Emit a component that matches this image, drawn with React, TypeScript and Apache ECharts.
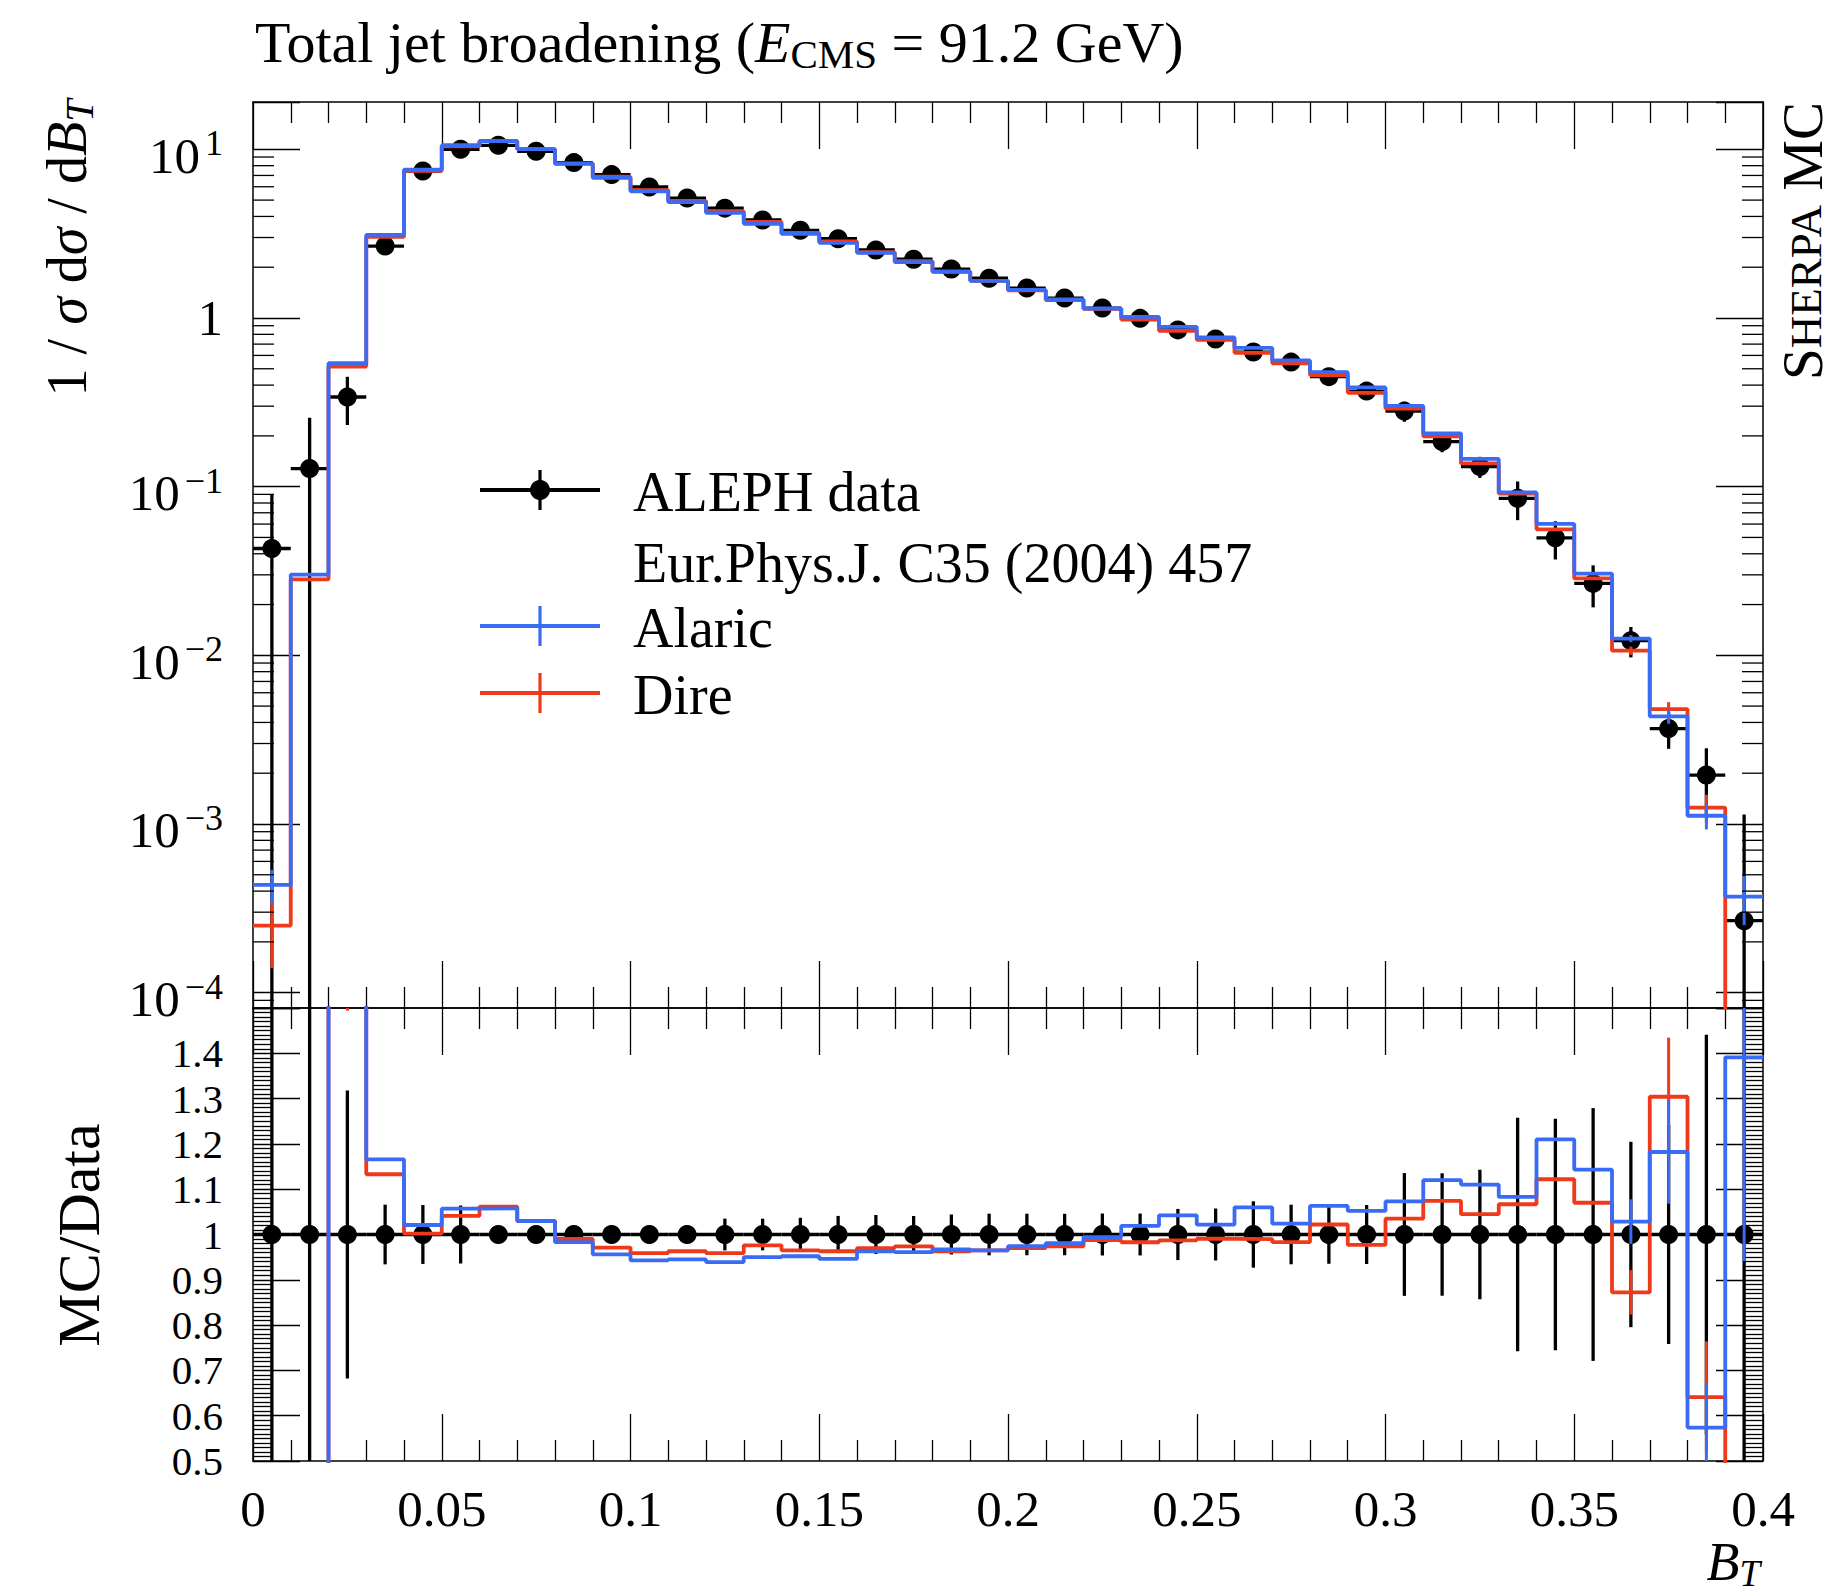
import React, { useEffect, useRef } from "react";
import * as echarts from "echarts";

// ---------------- data ----------------
const BIN_EDGES = [
  0, 0.01, 0.02, 0.03, 0.04, 0.05, 0.06, 0.07, 0.08, 0.09, 0.1, 0.11, 0.12, 0.13,
  0.14, 0.15, 0.16, 0.17, 0.18, 0.19, 0.2, 0.21, 0.22, 0.23, 0.24, 0.25, 0.26,
  0.27, 0.28, 0.29, 0.3, 0.31, 0.32, 0.33, 0.34, 0.35, 0.36, 0.37, 0.38, 0.39, 0.4,
];

const ALEPH_VALUES = [
  0.043, 0.128, 0.34, 2.67, 7.43, 10.0, 10.56, 9.73, 8.34, 7.08, 5.98, 5.14, 4.48,
  3.81, 3.31, 2.95, 2.53, 2.23, 1.95, 1.72, 1.505, 1.312, 1.145, 0.995, 0.85, 0.75,
  0.628, 0.5475, 0.449, 0.3685, 0.2805, 0.185, 0.1315, 0.0853, 0.0497, 0.0267,
  0.01222, 0.00368, 0.00195, 0.000267,
];
const ALEPH_ERRORS = [
  0.047, 0.128, 0.108, 0.176, 0.483, 0.64, 0.16, 0.146, 0.125, 0.106, 0.09, 0.1,
  0.157, 0.133, 0.122, 0.121, 0.109, 0.091, 0.086, 0.079, 0.069, 0.06, 0.053,
  0.046, 0.048, 0.043, 0.046, 0.036, 0.029, 0.024, 0.038, 0.025, 0.0188, 0.022,
  0.0127, 0.00745, 0.0025, 0.00089, 0.00086, 0.00087,
];

const ALARIC_VALUES = [
  0.000435, 0.0301, 0.54, 3.113, 7.586, 10.57, 11.17, 10.02, 8.198, 6.768, 5.639,
  4.857, 4.207, 3.62, 3.151, 2.791, 2.436, 2.143, 1.886, 1.66, 1.466, 1.287, 1.138,
  1.014, 0.886, 0.7665, 0.6657, 0.5606, 0.4773, 0.3877, 0.301, 0.2072, 0.146,
  0.09238, 0.06014, 0.03052, 0.01257, 0.00435, 0.001119, 0.0003714,
];
const ALARIC_ERRORS = [
  0.0001, 0, 0, 0, 0, 0, 0, 0, 0, 0, 0, 0, 0, 0, 0, 0, 0, 0, 0, 0, 0, 0, 0, 0, 0,
  0, 0, 0, 0, 0, 0, 0, 0, 0, 0, 0, 0.0006, 0.00042, 0.00019, 0.00012,
];

const DIRE_VALUES = [
  0.00025, 0.0282, 0.515, 3.025, 7.445, 10.41, 11.21, 10.02, 8.257, 6.875, 5.735,
  4.95, 4.296, 3.719, 3.194, 2.841, 2.454, 2.172, 1.878, 1.66, 1.46, 1.278, 1.131,
  0.978, 0.839, 0.743, 0.6217, 0.5382, 0.4589, 0.36, 0.2903, 0.1987, 0.1374, 0.091,
  0.05576, 0.02857, 0.01066, 0.004799, 0.00125, 0,
];
const DIRE_ERRORS = [
  0.00011, 0, 0.007, 0, 0, 0, 0, 0, 0, 0, 0, 0, 0, 0, 0, 0, 0, 0, 0, 0, 0, 0, 0, 0,
  0, 0, 0, 0, 0, 0, 0, 0, 0, 0, 0, 0, 0.0006, 0.00048, 0.00024, 0,
];

const X_RANGE = [0, 0.4];
const X_MAJOR_STEP = 0.05;
const MAIN_Y_RANGE = [8.11e-5, 19.08];
const RATIO_Y_RANGE = [0.5, 1.5];
const RATIO_MAJOR_STEP = 0.1;
const LOG_DECADES = [-5, -4, -3, -2, -1, 0, 1];
const LOG_MINOR_MULTIPLIERS = [2, 3, 4, 5, 6, 7, 8, 9];

const LEGEND_LABELS = ["ALEPH data", "Eur.Phys.J. C35 (2004) 457", "Alaric", "Dire"];

// ---------------- style / layout ----------------
const W = 1845;
const H = 1596;
const PLOT_LEFT = 253;
const PLOT_WIDTH = 1510;
const MAIN_TOP = 102;
const MAIN_HEIGHT = 906;
const RATIO_HEIGHT = 453;
const FONT = "'Liberation Serif', 'Times New Roman', serif";
const BLUE = "#3A6BF5";
const RED = "#EE3A1A";
const BLACK = "#000000";
const LOG_FLOOR = 1e-9;

function tok(size: number, extra: any = {}) {
  return { fontSize: size, fontFamily: FONT, fill: BLACK, color: BLACK, ...extra };
}

function errorBars(
  name: string,
  xAxisIndex: number,
  yAxisIndex: number,
  items: number[][],
  color: string,
  width: number,
  withX: boolean,
  floor: number | null,
  z: number
) {
  return {
    type: "custom",
    name,
    xAxisIndex,
    yAxisIndex,
    clip: true,
    silent: true,
    z,
    encode: { x: 0, y: 1 },
    data: items,
    renderItem: (_params: any, api: any) => {
      const x = api.value(0);
      const y = api.value(1);
      const e = api.value(2);
      const xl = api.value(3);
      const xh = api.value(4);
      let lo = y - e;
      if (floor !== null) lo = Math.max(lo, floor);
      const top = api.coord([x, y + e]);
      const bot = api.coord([x, lo]);
      const children: any[] = [];
      if (e > 0) {
        children.push({
          type: "line",
          shape: { x1: top[0], y1: top[1], x2: bot[0], y2: bot[1] },
          style: { stroke: color, lineWidth: width },
        });
      }
      if (withX) {
        const l = api.coord([xl, y]);
        const r = api.coord([xh, y]);
        children.push({
          type: "line",
          shape: { x1: l[0], y1: l[1], x2: r[0], y2: r[1] },
          style: { stroke: color, lineWidth: width },
        });
      }
      return { type: "group", children };
    },
  };
}

function buildOption() {
  const nBins = ALEPH_VALUES.length;
  const centers = ALEPH_VALUES.map((_, i) => (BIN_EDGES[i] + BIN_EDGES[i + 1]) / 2);
  const pos = (v: number) => (v > 0 ? v : LOG_FLOOR);
  const step = (vals: number[]) =>
    BIN_EDGES.map((x, i) => [x, vals[Math.min(i, nBins - 1)]]);
  const ratio = (vals: number[]) => vals.map((v, i) => v / ALEPH_VALUES[i]);

  const dataMain = ALEPH_VALUES.map((v, i) => [centers[i], v, ALEPH_ERRORS[i], BIN_EDGES[i], BIN_EDGES[i + 1]]);
  const dataRatio = ALEPH_VALUES.map((v, i) => [centers[i], 1, ALEPH_ERRORS[i] / v, BIN_EDGES[i], BIN_EDGES[i + 1]]);
  const mcErr = (vals: number[], errs: number[], isRatio: boolean) =>
    vals
      .map((v, i) => [
        centers[i],
        isRatio ? v / ALEPH_VALUES[i] : pos(v),
        isRatio ? errs[i] / ALEPH_VALUES[i] : errs[i],
        BIN_EDGES[i],
        BIN_EDGES[i + 1],
      ])
      .filter((_, i) => errs[i] > 0);

  const minorLogTicks: number[][] = [];
  LOG_DECADES.forEach((d) =>
    LOG_MINOR_MULTIPLIERS.forEach((m) => {
      const v = m * Math.pow(10, d);
      if (v > MAIN_Y_RANGE[0] && v < MAIN_Y_RANGE[1]) minorLogTicks.push([X_RANGE[0], v]);
    })
  );

  const axisLine = { show: true, onZero: false, lineStyle: { color: BLACK, width: 1.5 } };
  const tickStyle = { color: BLACK, width: 1.3 };

  const xAxis = (gridIndex: number, position: string, showLabel: boolean) => ({
    type: "value",
    gridIndex,
    position,
    min: X_RANGE[0],
    max: X_RANGE[1],
    interval: X_MAJOR_STEP,
    axisLine,
    axisTick: { show: true, inside: true, length: 47, lineStyle: tickStyle },
    minorTick: { show: true, splitNumber: 5, length: 21, lineStyle: tickStyle },
    splitLine: { show: false },
    minorSplitLine: { show: false },
    axisLabel: {
      show: showLabel,
      margin: 22,
      color: BLACK,
      fontFamily: FONT,
      fontSize: 51,
      showMinLabel: true,
      showMaxLabel: true,
      formatter: (v: number) => String(Math.round(v * 100) / 100),
    },
  });

  const logAxis = (position: string, showLabel: boolean) => ({
    type: "log",
    logBase: 10,
    gridIndex: 0,
    position,
    min: MAIN_Y_RANGE[0],
    max: MAIN_Y_RANGE[1],
    axisLine,
    axisTick: { show: true, inside: true, length: 47, lineStyle: tickStyle },
    minorTick: { show: false },
    splitLine: { show: false },
    axisLabel: {
      show: showLabel,
      margin: 30,
      color: BLACK,
      fontFamily: FONT,
      fontSize: 50,
      formatter: (v: number) => {
        const e = Math.log10(v);
        const r = Math.round(e);
        if (Math.abs(e - r) > 1e-6) return "";
        if (r === 0) return "{one|1}";
        return `{b|10}{s|${r < 0 ? "\u2212" + -r : r}}`;
      },
      rich: {
        b: tok(51, { lineHeight: 64, verticalAlign: "bottom" }),
        s: tok(36, { verticalAlign: "top", padding: [8, 0, 0, 5] }),
        one: tok(51, { lineHeight: 64 }),
      },
    },
  });

  const ratioAxis = (position: string, showLabel: boolean) => ({
    type: "value",
    gridIndex: 1,
    position,
    min: RATIO_Y_RANGE[0],
    max: RATIO_Y_RANGE[1],
    interval: RATIO_MAJOR_STEP,
    axisLine,
    axisTick: { show: true, inside: true, length: 47, lineStyle: tickStyle },
    minorTick: { show: true, splitNumber: 10, length: 19, lineStyle: tickStyle },
    splitLine: { show: false },
    minorSplitLine: { show: false },
    axisLabel: {
      show: showLabel,
      margin: 30,
      color: BLACK,
      fontFamily: FONT,
      fontSize: 41,
      lineHeight: 40,
      showMinLabel: true,
      showMaxLabel: false,
      hideOverlap: false,
      formatter: (v: number) => String(Math.round(v * 10) / 10),
    },
  });

  const stepLine = (name: string, xi: number, yi: number, data: number[][], color: string, z: number) => ({
    type: "line",
    name,
    xAxisIndex: xi,
    yAxisIndex: yi,
    data,
    step: "end",
    symbol: "none",
    clip: true,
    silent: true,
    z,
    lineStyle: { color, width: 3.8 },
    itemStyle: { color },
  });

  const dots = (name: string, xi: number, yi: number, data: number[][]) => ({
    type: "scatter",
    name,
    xAxisIndex: xi,
    yAxisIndex: yi,
    data,
    symbol: "circle",
    symbolSize: 19,
    itemStyle: { color: BLACK, opacity: 1 },
    silent: true,
    clip: true,
    z: 3,
  });

  const series: any[] = [
    // main panel
    errorBars("ALEPH err", 0, 0, dataMain, BLACK, 3.3, true, LOG_FLOOR, 2),
    dots("ALEPH data", 0, 0, ALEPH_VALUES.map((v, i) => [centers[i], v])),
    stepLine("Dire", 0, 0, step(DIRE_VALUES.map(pos)), RED, 4),
    errorBars("Dire err", 0, 0, mcErr(DIRE_VALUES, DIRE_ERRORS, false), RED, 3, false, LOG_FLOOR, 4),
    stepLine("Alaric", 0, 0, step(ALARIC_VALUES.map(pos)), BLUE, 5),
    errorBars("Alaric err", 0, 0, mcErr(ALARIC_VALUES, ALARIC_ERRORS, false), BLUE, 3, false, LOG_FLOOR, 5),
    // ratio panel
    errorBars("ALEPH ratio err", 2, 2, dataRatio, BLACK, 3.3, true, null, 2),
    dots("ALEPH ratio", 2, 2, centers.map((c) => [c, 1])),
    stepLine("Dire ratio", 2, 2, step(ratio(DIRE_VALUES)), RED, 4),
    errorBars("Dire ratio err", 2, 2, mcErr(DIRE_VALUES, DIRE_ERRORS, true), RED, 3, false, null, 4),
    stepLine("Alaric ratio", 2, 2, step(ratio(ALARIC_VALUES)), BLUE, 5),
    errorBars("Alaric ratio err", 2, 2, mcErr(ALARIC_VALUES, ALARIC_ERRORS, true), BLUE, 3, false, null, 5),
    // log minor ticks (left + right frame)
    {
      type: "custom",
      name: "log minor ticks",
      xAxisIndex: 0,
      yAxisIndex: 0,
      silent: true,
      z: 6,
      encode: { x: 0, y: 1 },
      data: minorLogTicks,
      renderItem: (_p: any, api: any) => {
        const v = api.value(1);
        const l = api.coord([X_RANGE[0], v]);
        const r = api.coord([X_RANGE[1], v]);
        return {
          type: "group",
          children: [
            { type: "line", shape: { x1: l[0], y1: l[1], x2: l[0] + 21, y2: l[1] }, style: { stroke: BLACK, lineWidth: 1.3 } },
            { type: "line", shape: { x1: r[0], y1: r[1], x2: r[0] - 21, y2: r[1] }, style: { stroke: BLACK, lineWidth: 1.3 } },
          ],
        };
      },
    },
  ];

  // legend rows
  const LEG_X0 = 480;
  const LEG_X1 = 600;
  const LEG_MID = 540;
  const LEG_TEXT_X = 633;
  const rowY = [490, 561, 626, 693];
  const legendText = (text: string, y: number) => ({
    type: "text",
    x: LEG_TEXT_X,
    y,
    silent: true,
    style: { text, fill: BLACK, fontFamily: FONT, fontSize: 56, align: "left", verticalAlign: "middle" },
  });
  const hline = (y: number, color: string) => ({
    type: "line",
    silent: true,
    shape: { x1: LEG_X0, y1: y, x2: LEG_X1, y2: y },
    style: { stroke: color, lineWidth: 3.8 },
  });
  const vline = (y: number, color: string) => ({
    type: "line",
    silent: true,
    shape: { x1: LEG_MID, y1: y - 20, x2: LEG_MID, y2: y + 20 },
    style: { stroke: color, lineWidth: 3.2 },
  });

  const graphic: any[] = [
    {
      type: "text",
      x: 255,
      y: 42,
      silent: true,
      style: {
        text: "{n|Total jet broadening (}{i|E}{sub|CMS}{n| = 91.2 GeV)}",
        align: "left",
        verticalAlign: "middle",
        rich: {
          n: tok(58, { lineHeight: 64 }),
          i: tok(58, { lineHeight: 64, fontStyle: "italic" }),
          sub: tok(41, { verticalAlign: "bottom" }),
        },
      },
    },
    {
      type: "text",
      x: 67,
      y: 248,
      rotation: Math.PI / 2,
      silent: true,
      style: {
        text: "{n|1 / }{i|\u03c3}{n| d}{i|\u03c3}{n| / d}{i|B}{s|T}",
        align: "center",
        verticalAlign: "middle",
        rich: {
          n: tok(56, { lineHeight: 64 }),
          i: tok(56, { lineHeight: 64, fontStyle: "italic" }),
          s: tok(40, { fontStyle: "italic", verticalAlign: "bottom" }),
        },
      },
    },
    {
      type: "text",
      x: 79,
      y: 1235,
      rotation: Math.PI / 2,
      silent: true,
      style: { text: "MC/Data", fill: BLACK, fontFamily: FONT, fontSize: 60, align: "center", verticalAlign: "middle" },
    },
    {
      type: "text",
      x: 1801,
      y: 241,
      rotation: Math.PI / 2,
      silent: true,
      style: {
        text: "{b|S}{s|HERPA}{b| MC}",
        align: "center",
        verticalAlign: "middle",
        rich: {
          b: tok(57, { lineHeight: 60, verticalAlign: "bottom" }),
          s: tok(45, { verticalAlign: "bottom", padding: [0, 0, 3, 0] }),
        },
      },
    },
    {
      type: "text",
      x: 1760,
      y: 1562,
      silent: true,
      style: {
        text: "{i|B}{s|T}",
        align: "right",
        verticalAlign: "middle",
        rich: {
          i: tok(54, { lineHeight: 60, fontStyle: "italic" }),
          s: tok(37, { fontStyle: "italic", verticalAlign: "bottom" }),
        },
      },
    },
    // legend
    hline(rowY[0], BLACK),
    vline(rowY[0], BLACK),
    { type: "circle", silent: true, shape: { cx: LEG_MID, cy: rowY[0], r: 10 }, style: { fill: BLACK } },
    legendText(LEGEND_LABELS[0], rowY[0] + 2),
    legendText(LEGEND_LABELS[1], rowY[1] + 2),
    hline(rowY[2], BLUE),
    vline(rowY[2], BLUE),
    legendText(LEGEND_LABELS[2], rowY[2] + 2),
    hline(rowY[3], RED),
    vline(rowY[3], RED),
    legendText(LEGEND_LABELS[3], rowY[3] + 2),
  ];

  return {
    animation: false,
    backgroundColor: "#ffffff",
    textStyle: { fontFamily: FONT, color: BLACK },
    tooltip: { show: false },
    grid: [
      { left: PLOT_LEFT, top: MAIN_TOP, width: PLOT_WIDTH, height: MAIN_HEIGHT, outerBoundsMode: "none", containLabel: false },
      { left: PLOT_LEFT, top: MAIN_TOP + MAIN_HEIGHT, width: PLOT_WIDTH, height: RATIO_HEIGHT, outerBoundsMode: "none", containLabel: false },
    ],
    xAxis: [
      xAxis(0, "bottom", false),
      xAxis(0, "top", false),
      xAxis(1, "bottom", true),
      xAxis(1, "top", false),
    ],
    yAxis: [logAxis("left", true), logAxis("right", false), ratioAxis("left", true), ratioAxis("right", false)],
    series,
    graphic,
  };
}

export default function App() {
  const ref = useRef<HTMLDivElement>(null);
  useEffect(() => {
    if (!ref.current) return;
    const chart = echarts.init(ref.current, undefined, { renderer: "svg" });
    chart.setOption(buildOption() as any);
    return () => chart.dispose();
  }, []);
  return (
    <div
      ref={ref}
      style={{ position: "absolute", left: 0, top: 0, width: W, height: H, background: "#ffffff" }}
    />
  );
}
